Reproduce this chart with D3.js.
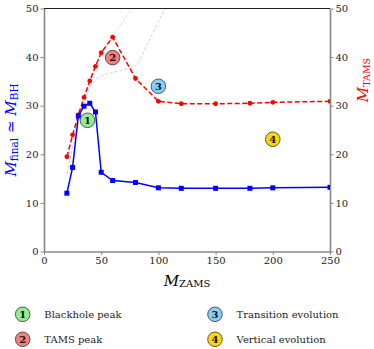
<!DOCTYPE html>
<html>
<head>
<meta charset="utf-8">
<script src="https://cdn.jsdelivr.net/npm/d3@7"></script>
<style>
  body { margin: 0; background: #fff; }
  svg text { font-family: "DejaVu Serif", serif; }
</style>
</head>
<body>
<script>
// ---- data ----
const zams = [20, 25, 30, 35, 40, 45, 50, 60, 80, 100, 120, 150, 180, 200, 250];
const mFinal = [12.0, 17.3, 27.9, 29.9, 30.5, 28.7, 16.3, 14.6, 14.2, 13.1, 13.0, 13.0, 13.0, 13.1, 13.2];
const mTams = [19.5, 24.0, 28.1, 31.7, 35.1, 38.1, 40.9, 44.1, 35.6, 30.9, 30.4, 30.4, 30.5, 30.7, 30.9];

// faint guide curves
const tamsTrendX = [20, 30, 40, 50, 60, 77];
const tamsTrendY = [19.0, 27.5, 35.0, 41.0, 44.3, 50];
const transX = [20, 25, 30, 35, 40, 45, 50, 60, 70, 80, 90, 100, 106];
const transY = [16.0, 21.5, 26.5, 30.5, 33.8, 35.3, 36.1, 36.8, 37.4, 38.2, 42.5, 47.3, 50];

const noteNum = ["1", "2", "3", "4"];
const noteText = ["Blackhole peak", "TAMS peak", "Transition evolution", "Vertical evolution"];
const noteColor = ["#90ee90", "#f08080", "#87cefa", "#ffd700"];
const noteX = [38, 60, 100, 200];
const noteY = [27.0, 39.9, 34.0, 23.1];

const xTicks = [0, 50, 100, 150, 200, 250];
const yTicks = [0, 10, 20, 30, 40, 50];

const W = 374, H = 349;
const margin = { top: 8.5, bottom: 97.5, left: 44, right: 44 };

const svg = d3.select("body")
    .append("svg")
    .attr("width", W)
    .attr("height", H);

const x = d3.scaleLinear().domain([0, 250]).range([margin.left, W - margin.right]);
const y = d3.scaleLinear().domain([0, 50]).range([H - margin.bottom, margin.top]);

const spine = "#888";

// axes
const gx = svg.append("g")
    .attr("transform", `translate(0,${y(0)})`)
    .call(d3.axisBottom(x).tickValues(xTicks).tickSize(3.5).tickPadding(2).tickSizeOuter(0));
const gyl = svg.append("g")
    .attr("transform", `translate(${x(0)},0)`)
    .call(d3.axisLeft(y).tickValues(yTicks).tickSize(3.5).tickPadding(2).tickSizeOuter(0));
const gyr = svg.append("g")
    .attr("transform", `translate(${x(250)},0)`)
    .call(d3.axisRight(y).tickValues(yTicks).tickSize(3.5).tickPadding(2).tickSizeOuter(0));

[gx, gyl, gyr].forEach(g => {
    g.select(".domain").attr("stroke", spine).attr("stroke-width", 1.6);
    g.selectAll(".tick line").attr("stroke", spine).attr("stroke-width", 1);
    g.selectAll(".tick text").attr("fill", "#222").style("font-size", "10px")
        .style("font-family", "DejaVu Serif");
});

// top spine
svg.append("line")
    .attr("x1", x(0)).attr("x2", x(250))
    .attr("y1", y(50)).attr("y2", y(50))
    .attr("stroke", "#222").attr("stroke-width", 1);

const plot = svg.append("g");
plot.append("clipPath").attr("id", "clip")
    .append("rect")
    .attr("x", x(0)).attr("y", y(50))
    .attr("width", x(250) - x(0)).attr("height", y(0) - y(50));

const line = d3.line().x(d => x(d[0])).y(d => y(d[1]));
const inner = plot.append("g").attr("clip-path", "url(#clip)");

inner.append("path")
    .attr("d", line(d3.zip(tamsTrendX, tamsTrendY)))
    .attr("fill", "none").attr("stroke", "#ff0000").attr("stroke-opacity", 0.2)
    .attr("stroke-width", 1).attr("stroke-dasharray", "3,2");

inner.append("path")
    .attr("d", line.curve(d3.curveMonotoneX)(d3.zip(transX, transY)))
    .attr("fill", "none").attr("stroke", "#0000ff").attr("stroke-opacity", 0.2)
    .attr("stroke-width", 1).attr("stroke-dasharray", "3,2");
line.curve(d3.curveLinear);

// TAMS series
const tamsData = d3.zip(zams, mTams);
inner.append("path")
    .attr("d", line(tamsData))
    .attr("fill", "none").attr("stroke", "#ff0000")
    .attr("stroke-width", 1.5).attr("stroke-dasharray", "5,2.5");
inner.selectAll("circle.tams")
    .data(tamsData).join("circle")
    .attr("class", "tams")
    .attr("cx", d => x(d[0])).attr("cy", d => y(d[1]))
    .attr("r", 2.4).attr("fill", "#ff0000");

// final mass series
const finalData = d3.zip(zams, mFinal);
inner.append("path")
    .attr("d", line(finalData))
    .attr("fill", "none").attr("stroke", "#0000ff").attr("stroke-width", 1.5);
inner.selectAll("rect.fin")
    .data(finalData).join("rect")
    .attr("class", "fin")
    .attr("x", d => x(d[0]) - 2.5).attr("y", d => y(d[1]) - 2.5)
    .attr("width", 5).attr("height", 5).attr("fill", "#0000ff");

// numbered markers in the plot
const notes = noteNum.map((n, i) => ({ n, c: noteColor[i], x: noteX[i], y: noteY[i], t: noteText[i] }));

function badge(g, cx, cy, d) {
    g.append("circle").attr("cx", cx).attr("cy", cy).attr("r", 7.3)
        .attr("fill", d.c).attr("stroke", "#333").attr("stroke-width", 0.8);
    g.append("text").attr("x", cx).attr("y", cy + 3.6)
        .attr("text-anchor", "middle").attr("font-weight", "bold")
        .style("font-size", "10px").attr("fill", "#111").text(d.n);
}
notes.forEach(d => badge(plot, x(d.x), y(d.y), d));

// legend
const leg = svg.append("g");
notes.forEach((d, i) => {
    const col = Math.floor(i / 2), row = i % 2;
    const lx = 22.7 + col * 192.3, ly = 314.3 + row * 25;
    badge(leg, lx, ly, d);
    leg.append("text").attr("x", lx + 21.6).attr("y", ly + 3.5)
        .style("font-size", "10px").attr("fill", "#222").text(d.t);
});

// axis labels
const xl = svg.append("text")
    .attr("x", (x(0) + x(250)) / 2).attr("y", 285.5)
    .attr("text-anchor", "middle").attr("fill", "#000");
xl.append("tspan").attr("font-style", "italic").style("font-size", "15px").text("M");
xl.append("tspan").style("font-size", "10px").attr("dy", 1.5).text("ZAMS");

const yl = svg.append("text")
    .attr("transform", `translate(15.5,${(y(0) + y(50)) / 2}) rotate(-90)`)
    .attr("text-anchor", "middle").attr("fill", "#0000ff");
yl.append("tspan").attr("font-style", "italic").style("font-size", "15px").text("M");
yl.append("tspan").style("font-size", "10.5px").attr("dy", 2).text("final");
yl.append("tspan").style("font-size", "15px").attr("dy", -2).text(" \u2243 ");
yl.append("tspan").attr("font-style", "italic").style("font-size", "15px").text("M");
yl.append("tspan").style("font-size", "10.5px").attr("dy", 2).text("BH");

const yr = svg.append("text")
    .attr("transform", `translate(368,80) rotate(-90)`)
    .attr("text-anchor", "middle").attr("fill", "#ff0000");
yr.append("tspan").attr("font-style", "italic").style("font-size", "15px").text("M");
yr.append("tspan").style("font-size", "9.5px").attr("dy", 2).text("TAMS");
</script>
</body>
</html>
